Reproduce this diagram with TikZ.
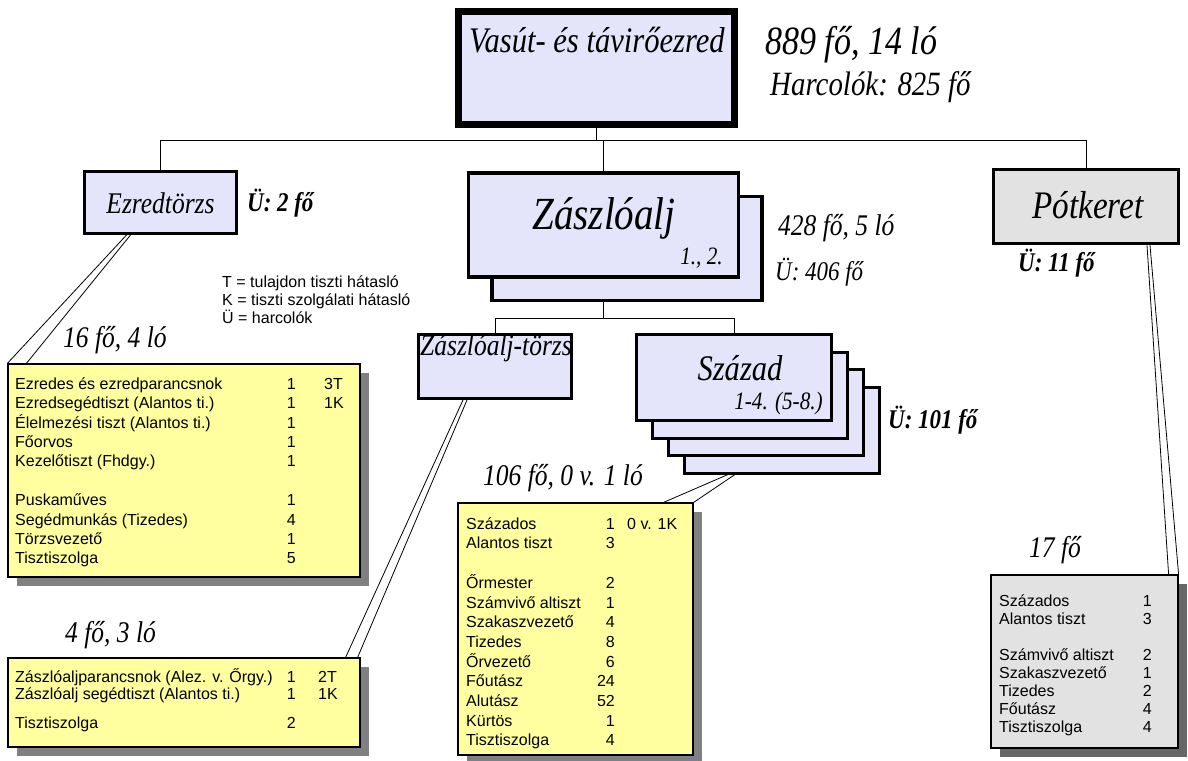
\documentclass[tikz,border=0pt]{standalone}
\usepackage{fontspec}
\newfontfamily\cors{Liberation Serif}[FakeStretch=0.85]
\newfontfamily\tah{Liberation Sans}
\usetikzlibrary{calc,shadows}
\definecolor{lav}{RGB}{228,228,250}
\definecolor{yel}{RGB}{255,255,160}
\definecolor{potc}{RGB}{226,226,226}
\definecolor{shadowc}{RGB}{128,128,128}
\newcommand\myfs[1]{\fontsize{#1}{#1}\selectfont}
\begin{document}
\begin{tikzpicture}[x=1pt,y=-1pt,
  lab/.style={inner sep=0pt, font=\cors\itshape\myfs{30}},
  blab/.style={inner sep=0pt, font=\cors\bfseries\itshape\myfs{27}},
  row/.style={anchor=west, inner sep=0pt, font=\tah\myfs{16}, text height=11.5pt, text depth=3pt},
  num/.style={row, anchor=east},
  conn/.style={draw=black, line width=0.9pt},
  callout/.style={draw=black, line width=0.8pt},
  unitbox/.style={draw=black, fill=lav, inner sep=0pt},
  yelbox/.style={draw=black, fill=yel, line width=1.2pt, inner sep=0pt,
     drop shadow={shadow xshift=9pt, shadow yshift=-9pt, fill=shadowc, opacity=1}},
  graybox/.style={draw=black, fill=potc, line width=1.2pt, inner sep=0pt,
     drop shadow={shadow xshift=9pt, shadow yshift=-9pt, fill=black!60, opacity=1}},
]
\useasboundingbox (0,0) rectangle (1188,760);
\fill[white] (0,0) rectangle (1188,760);

% ---- unit boxes
\node[unitbox, line width=7pt, minimum width=276pt, minimum height=113pt] (top) at (596.5,68) {};
\node[lab, font=\cors\itshape\myfs{36}] (toptitle) at (597,40) {Vasút- és távirőezred};
\node[lab, font=\cors\itshape\myfs{40}, anchor=west] (toplab1) at (765,45) {889 fő, 14 ló};
\node[lab, font=\cors\itshape\myfs{34}, anchor=west] (toplab2) at (770,87) {Harcolók: 825 fő};

\node[unitbox, line width=3pt, minimum width=152pt, minimum height=62pt] (ezt) at (160.5,202.5) {};
\node[lab] (ezttxt) at (160.5,203) {Ezredtörzs};
\node[blab, anchor=west] (eztlab) at (247,203) {Ü: 2 fő};

\node[unitbox, line width=3.5pt, minimum width=270pt, minimum height=104pt] (zaszb) at (627,248.5) {};
\node[unitbox, line width=3.5pt, minimum width=270pt, minimum height=104pt] (zasz) at (603.5,225) {};
\node[lab, font=\cors\itshape\myfs{46}] (zasztxt) at (604,218) {Zászlóalj};
\node[lab, font=\cors\itshape\myfs{25}, anchor=east] (zasznum) at (723,258) {1., 2.};
\node[lab, anchor=west] (zaszlab1) at (778,228) {428 fő, 5 ló};
\node[lab, font=\cors\itshape\myfs{27}, anchor=west] (zaszlab2) at (775,272) {Ü: 406 fő};

\node[unitbox, line width=3.5pt, fill=potc, minimum width=185pt, minimum height=74pt] (pot) at (1086,206.5) {};
\node[lab, font=\cors\itshape\myfs{39}] (pottxt) at (1088,205) {Pótkeret};
\node[blab, anchor=west] (potlab) at (1018,263) {Ü: 11 fő};

\node[unitbox, line width=3pt, minimum width=153pt, minimum height=64pt] (zt) at (495,366.5) {};
\begin{scope}
  \clip (zt.south west) rectangle (zt.north east);
  \node[lab, anchor=west] (zttxt) at (420,348) {Zászlóalj-törzs};
\end{scope}

\node[unitbox, line width=3pt, minimum width=195pt, minimum height=86pt] (szd4) at (782,430) {};
\node[unitbox, line width=3pt, minimum width=195pt, minimum height=86pt] (szd3) at (766,412.5) {};
\node[unitbox, line width=3pt, minimum width=195pt, minimum height=86pt] (szd2) at (750,395) {};
\node[unitbox, line width=3pt, minimum width=195pt, minimum height=86pt] (szd) at (734,377.5) {};
\node[lab, font=\cors\itshape\myfs{36}] (szdtxt) at (740,368) {Század};
\node[lab, font=\cors\itshape\myfs{25}, anchor=east] (szdnum) at (823,403) {1-4. (5-8.)};
\node[blab, anchor=west] (szdlab) at (888,420) {Ü: 101 fő};

% ---- connectors
\coordinate (bus) at (0,140);
\coordinate (sub) at (0,318);
\draw[conn] (top.south) -- (top.south |- bus);
\draw[conn] (ezt.north) -- (ezt.north |- bus) -- (pot.north |- bus) -- (pot.north);
\draw[conn] (zasz.north) -- (zasz.north |- bus);
\draw[conn] (zasz.center |- zaszb.south) -- (zasz.center |- sub);
\draw[conn] (zt.north) -- (zt.north |- sub) -- (szd.north |- sub) -- (szd.north);

% ---- legend
\node[row] (leg1) at (222,283) {T = tulajdon tiszti hátasló};
\node[row] (leg2) at (222,301) {K = tiszti szolgálati hátasló};
\node[row] (leg3) at (222,319) {Ü = harcolók};

% ---- detail boxes
\node[lab, anchor=west] (b1lab) at (63,340) {16 fő, 4 ló};
\node[yelbox, minimum width=352pt, minimum height=213pt] (box1) at (184,470.5) {};
\foreach \y/\t/\n/\e [count=\i] in {385/Ezredes és ezredparancsnok/1/3T,
   404.4/Ezredsegédtiszt (Alantos ti.)/1/1K,
   423.8/Élelmezési tiszt (Alantos ti.)/1/,
   443.2/Főorvos/1/,
   462.6/Kezelőtiszt (Fhdgy.)/1/,
   501.4/Puskaműves/1/,
   520.8/Segédmunkás (Tizedes)/4/,
   540.2/Törzsvezető/1/,
   559.6/Tisztiszolga/5/} {
  \node[row] (b1t\i) at (15,\y) {\t};
  \node[num] (b1n\i) at (296,\y) {\n};
  \node[row] (b1e\i) at (324,\y) {\e};
}

\node[lab, anchor=west] (b2lab) at (65,635) {4 fő, 3 ló};
\node[yelbox, minimum width=352pt, minimum height=89pt] (box2) at (184,702.5) {};
\foreach \y/\t/\n/\e [count=\i] in {678/Zászlóaljparancsnok (Alez. v. Őrgy.)/1/2T,
   695/Zászlóalj segédtiszt (Alantos ti.)/1/1K,
   724/Tisztiszolga/2/} {
  \node[row] (b2t\i) at (15,\y) {\t};
  \node[num] (b2n\i) at (296,\y) {\n};
  \node[row] (b2e\i) at (318,\y) {\e};
}

\node[lab, anchor=west] (b3lab) at (483,478) {106 fő, 0 v. 1 ló};
\node[yelbox, minimum width=235pt, minimum height=252pt] (box3) at (575.5,629) {};
\foreach \y/\t/\n/\e [count=\i] in {525/Százados/1/0 v. 1K,
   544.7/Alantos tiszt/3/,
   584.1/Őrmester/2/,
   603.8/Számvivő altiszt/1/,
   623.5/Szakaszvezető/4/,
   643.2/Tizedes/8/,
   662.9/Őrvezető/6/,
   682.6/Főutász/24/,
   702.3/Alutász/52/,
   722/Kürtös/1/,
   741.7/Tisztiszolga/4/} {
  \node[row] (b3t\i) at (466,\y) {\t};
  \node[num] (b3n\i) at (615,\y) {\n};
  \node[row] (b3e\i) at (627,\y) {\e};
}

\node[lab] (b4lab) at (1055,550) {17 fő};
\node[graybox, minimum width=187pt, minimum height=173pt] (box4) at (1084.5,661.5) {};
\foreach \y/\t/\n [count=\i] in {602/Százados/1,
   620/Alantos tiszt/3,
   656/Számvivő altiszt/2,
   674/Szakaszvezető/1,
   692/Tizedes/2,
   710/Főutász/4,
   728/Tisztiszolga/4} {
  \node[row] (b4t\i) at (999,\y) {\t};
  \node[num] (b4n\i) at (1152,\y) {\n};
}

% ---- callout wedges
\draw[callout] ([xshift=-34pt]ezt.south) -- (box1.north west);
\draw[callout] ([xshift=-30pt]ezt.south) -- ([xshift=19pt]box1.north west);
\draw[callout] ([xshift=-32pt]zt.south) -- ([xshift=-15pt]box2.north east);
\draw[callout] ([xshift=-28pt]zt.south) -- ([xshift=-3pt]box2.north east);
\draw[callout] ([xshift=-54pt]szd4.south) -- ([xshift=-30pt]box3.north east);
\draw[callout] ([xshift=-47pt]szd4.south) -- (box3.north east);
\draw[callout] ([xshift=61pt]pot.south) -- ([xshift=-10pt]box4.north east);
\draw[callout] ([xshift=64pt]pot.south) -- (box4.north east);
\end{tikzpicture}
\end{document}
